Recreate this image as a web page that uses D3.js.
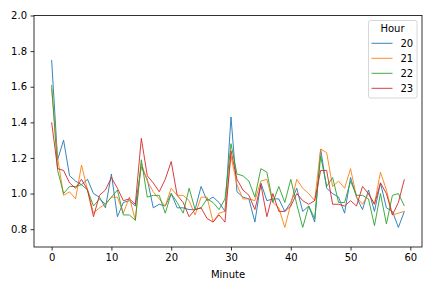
<!DOCTYPE html>
<html>
<head>
<meta charset="utf-8">
<script src="https://cdn.jsdelivr.net/npm/d3@7"></script>
<style>
  body { margin: 0; background: #fff; }
  svg { font-family: "DejaVu Sans", sans-serif; }
</style>
</head>
<body>
<div id="container"></div>
<script>
var width = 432,
    height = 288,
    margin = { left: 34, top: 15.5, right: 10, bottom: 41 },
    g_width = width - margin.left - margin.right,
    g_height = height - margin.top - margin.bottom;

// data, one array per hour
var minutes = d3.range(0, 60);
var hours = ['20', '21', '22', '23'];
var h20 = [1.75, 1.19, 1.30, 1.10, 1.07, 1.05, 1.08, 1.00, 0.98, 0.92,
           1.11, 0.87, 0.95, 0.96, 0.93, 1.15, 1.08, 0.92, 0.94, 0.93,
           1.00, 0.92, 0.92, 0.91, 0.91, 1.04, 0.96, 0.98, 0.95, 0.90,
           1.43, 1.01, 0.98, 0.97, 0.84, 1.06, 0.96, 0.97, 0.97, 0.90,
           0.95, 1.03, 0.90, 0.93, 0.84, 1.25, 1.03, 1.00, 0.98, 0.89,
           1.09, 0.98, 0.91, 1.02, 0.90, 1.06, 0.92, 0.90, 0.81, 0.90];
var h21 = [1.59, 1.20, 0.99, 1.01, 0.97, 1.16, 1.02, 0.89, 0.92, 0.94,
           0.98, 0.98, 0.89, 0.98, 0.85, 1.17, 1.07, 1.01, 0.97, 0.93,
           1.03, 0.99, 0.99, 0.96, 0.88, 0.98, 0.98, 0.84, 0.89, 0.90,
           1.21, 1.05, 0.97, 0.97, 0.96, 1.07, 1.08, 0.95, 0.92, 0.81,
           0.94, 1.08, 1.03, 1.00, 0.96, 1.25, 1.23, 1.04, 1.07, 1.03,
           1.14, 0.98, 0.94, 1.00, 0.94, 1.12, 1.02, 0.88, 0.89, 0.90];
var h22 = [1.61, 1.13, 1.00, 1.04, 1.04, 1.05, 1.02, 0.93, 0.97, 0.94,
           0.98, 1.02, 0.88, 0.88, 0.85, 1.19, 0.98, 0.99, 0.99, 0.89,
           1.00, 0.95, 0.89, 1.03, 0.91, 0.92, 0.97, 0.95, 0.91, 0.97,
           1.28, 1.11, 1.10, 1.07, 0.98, 1.14, 1.12, 0.95, 1.04, 0.95,
           1.08, 0.94, 0.81, 0.93, 0.86, 1.21, 1.04, 1.09, 0.95, 0.95,
           1.07, 0.99, 0.99, 0.97, 0.82, 1.00, 0.83, 0.99, 1.00, 0.93];
var h23 = [1.40, 1.14, 1.13, 1.06, 1.03, 1.08, 1.02, 0.87, 0.99, 1.02,
           1.09, 1.03, 0.96, 0.97, 0.94, 1.31, 1.10, 1.06, 1.01, 1.08,
           1.18, 0.99, 0.95, 0.87, 0.91, 0.92, 0.86, 0.84, 0.88, 0.84,
           1.24, 1.08, 1.02, 0.99, 0.91, 1.05, 0.87, 1.00, 0.90, 0.90,
           0.93, 1.00, 0.96, 0.94, 0.96, 1.13, 1.13, 0.94, 0.94, 0.93,
           0.96, 0.93, 1.04, 1.00, 0.94, 1.06, 1.00, 0.88, 0.95, 1.08];
var x_ticks = [0, 10, 20, 30, 40, 50, 60];
var y_ticks = [0.8, 1.0, 1.2, 1.4, 1.6, 1.8, 2.0];

var series = [h20, h21, h22, h23];
var colors = ['#1f77b4', '#ff7f0e', '#2ca02c', '#d62728'];

//svg
var svg = d3.select('#container')
    .append('svg')
    .attr('width', width)
    .attr('height', height)
var g = svg.append('g')
    .attr('transform', 'translate(' + margin.left + ',' + margin.top + ')')

var scale_x = d3.scaleLinear()
    .domain([-2.95, 61.95])
    .range([0, g_width])
var scale_y = d3.scaleLinear()
    .domain([0.7, 2.0])
    .range([g_height, 0])

var line_generator = d3.line()
    .x(function (d, i) { return scale_x(minutes[i]); })
    .y(function (d) { return scale_y(d); })

g.selectAll('path.series')
    .data(series)
    .enter()
    .append('path')
    .attr('class', 'series')
    .attr('d', line_generator)
    .attr('fill', 'none')
    .attr('stroke', function (d, i) { return colors[i]; })
    .attr('stroke-width', 0.9)
    .attr('stroke-linejoin', 'round')

// x
var x_axis = d3.axisBottom(scale_x).tickValues(x_ticks).tickSize(3.5).tickPadding(3.5).tickFormat(d3.format('d'));
var y_axis = d3.axisLeft(scale_y).tickValues(y_ticks).tickSize(3.5).tickPadding(3.5).tickFormat(d3.format('.1f'));
var gx = g.append('g')
    .attr('transform', 'translate(0,' + g_height + ')')
    .call(x_axis)
// y
var gy = g.append('g')
    .call(y_axis)
svg.selectAll('.domain').remove()
svg.selectAll('.tick line').attr('stroke', '#000').attr('stroke-width', 0.8)
svg.selectAll('.tick text').attr('font-size', 10).attr('fill', '#000').attr('font-family', '"DejaVu Sans", sans-serif')

// frame
g.append('rect')
    .attr('width', g_width)
    .attr('height', g_height)
    .attr('fill', 'none')
    .attr('stroke', '#000')
    .attr('stroke-width', 0.8)

g.append('text')
    .text('Minute')
    .attr('x', g_width / 2)
    .attr('y', g_height + 31)
    .attr('text-anchor', 'middle')
    .attr('font-size', 10)

// legend
var legend = g.append('g')
    .attr('transform', 'translate(' + (g_width - 53.5) + ',5)')
legend.append('rect')
    .attr('width', 48.5)
    .attr('height', 77.5)
    .attr('rx', 2)
    .attr('fill', '#fff')
    .attr('fill-opacity', 0.8)
    .attr('stroke', '#ccc')
    .attr('stroke-width', 0.8)
legend.append('text')
    .text('Hour')
    .attr('x', 24)
    .attr('y', 11.5)
    .attr('text-anchor', 'middle')
    .attr('font-size', 10)
var item = legend.selectAll('g.item')
    .data(hours)
    .enter()
    .append('g')
    .attr('class', 'item')
    .attr('transform', function (d, i) { return 'translate(0,' + (22.8 + i * 15) + ')'; })
item.append('line')
    .attr('x1', 3)
    .attr('x2', 24)
    .attr('stroke', function (d, i) { return colors[i]; })
    .attr('stroke-width', 0.9)
item.append('text')
    .text(function (d) { return d; })
    .attr('x', 32)
    .attr('y', 3.6)
    .attr('font-size', 10)
</script>
</body>
</html>
